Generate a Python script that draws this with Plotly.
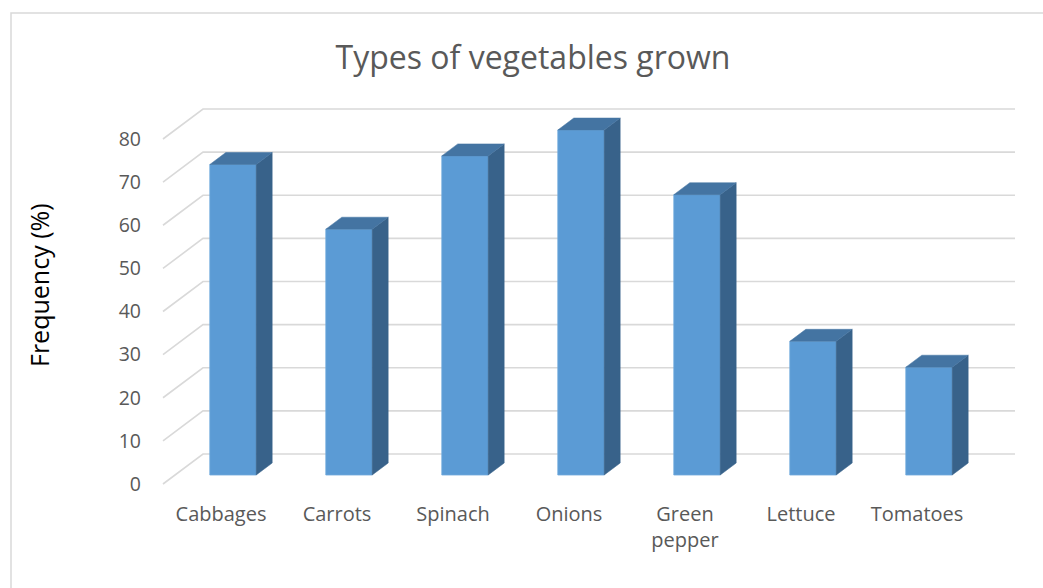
import plotly.graph_objects as go

# ---- data ----
categories = ["Cabbages", "Carrots", "Spinach", "Onions", "Green pepper", "Lettuce", "Tomatoes"]
tick_text = ["Cabbages", "Carrots", "Spinach", "Onions", "Green<br>pepper", "Lettuce", "Tomatoes"]
values = [72, 57, 74, 80, 65, 31, 25]
y_ticks = [0, 10, 20, 30, 40, 50, 60, 70, 80]

# ---- layout geometry (pixels) ----
W, H = 1043, 588
L, R, T, B = 148, 1025, 95, 500
X0PX, XSCALE = 163.0, 116.0     # front-plane left px, px per category
Y0PX, YSCALE = 484.0, 345.0 / 80  # front-plane zero px, px per unit
DEPTH_PX = (40.0, 30.0)          # oblique depth vector (right, up) in px
dxu = DEPTH_PX[0] / XSCALE
dyu = DEPTH_PX[1] / YSCALE
xr = [(L - X0PX) / XSCALE, (R - X0PX) / XSCALE]
yr = [(Y0PX - B) / YSCALE, (Y0PX - T) / YSCALE]

def px2paper_x(px):
    return (px - L) / (R - L)

def px2paper_y(py):
    return (B - py) / (B - T)

GRID = "#D9D9D9"
TEXT = "#595959"
FRONT = "#5B9BD5"
SIDE = "#38628A"
TOP = "#4474A2"

fig = go.Figure()

# gridlines: back wall + floor-side diagonals
n = len(categories)
gx, gy = [], []
for t in y_ticks:
    gx += [0, dxu, n + dxu, None]
    gy += [t, t + dyu, t + dyu, None]
fig.add_trace(go.Scatter(x=gx, y=gy, mode="lines", line=dict(color=GRID, width=1.6),
                         hoverinfo="skip", showlegend=False))

# 3D bars
d0, d1 = 0.3, 0.7
bw0, bw1 = 0.3, 0.7
for i, v in enumerate(values):
    xl = i + bw0
    xrr = i + bw1
    fx0, fy0 = d0 * dxu, d0 * dyu
    fx1, fy1 = d1 * dxu, d1 * dyu
    # front
    fig.add_trace(go.Scatter(
        x=[xl + fx0, xrr + fx0, xrr + fx0, xl + fx0, xl + fx0],
        y=[fy0, fy0, v + fy0, v + fy0, fy0],
        mode="lines", fill="toself", fillcolor=FRONT,
        line=dict(color="#6FA8DC", width=0.8), hoverinfo="skip", showlegend=False))
    # side
    fig.add_trace(go.Scatter(
        x=[xrr + fx0, xrr + fx1, xrr + fx1, xrr + fx0, xrr + fx0],
        y=[fy0, fy1, v + fy1, v + fy0, fy0],
        mode="lines", fill="toself", fillcolor=SIDE,
        line=dict(color=SIDE, width=0.5), hoverinfo="skip", showlegend=False))
    # top
    fig.add_trace(go.Scatter(
        x=[xl + fx0, xrr + fx0, xrr + fx1, xl + fx1, xl + fx0],
        y=[v + fy0, v + fy0, v + fy1, v + fy1, v + fy0],
        mode="lines", fill="toself", fillcolor=TOP,
        line=dict(color=TOP, width=0.5), hoverinfo="skip", showlegend=False))

FONT = "Open Sans"
fig.update_layout(
    width=W, height=H,
    margin=dict(l=L, r=W - R, t=T, b=H - B, pad=0),
    paper_bgcolor="white", plot_bgcolor="white",
    font=dict(family=FONT, color=TEXT),
    title=dict(text="Types of vegetables grown", x=533 / W, y=1 - 58 / H,
               xanchor="center", yanchor="middle", xref="container", yref="container",
               font=dict(size=32, color=TEXT, family=FONT)),
    xaxis=dict(range=xr, tickvals=[i + 0.5 for i in range(n)], ticktext=tick_text,
               showgrid=False, zeroline=False, showline=False, ticks="",
               tickfont=dict(size=20, color=TEXT), fixedrange=True),
    yaxis=dict(range=yr, tickvals=y_ticks, ticktext=[str(t) for t in y_ticks],
               showgrid=False, zeroline=False, showline=False, ticks="",
               ticklabelstandoff=6,
               tickfont=dict(size=19.5, color=TEXT), fixedrange=True),
    annotations=[dict(text="Frequency (%)", textangle=-90, showarrow=False,
                      xref="paper", yref="paper", x=px2paper_x(39), y=px2paper_y(285),
                      xanchor="center", yanchor="middle",
                      font=dict(size=25, color="#000000", family=FONT))],
    shapes=[dict(type="rect", xref="paper", yref="paper",
                 x0=px2paper_x(11), x1=px2paper_x(1060),
                 y0=px2paper_y(610), y1=px2paper_y(13),
                 line=dict(color=GRID, width=1.5), layer="below")],
)

fig.write_html("out.html")
